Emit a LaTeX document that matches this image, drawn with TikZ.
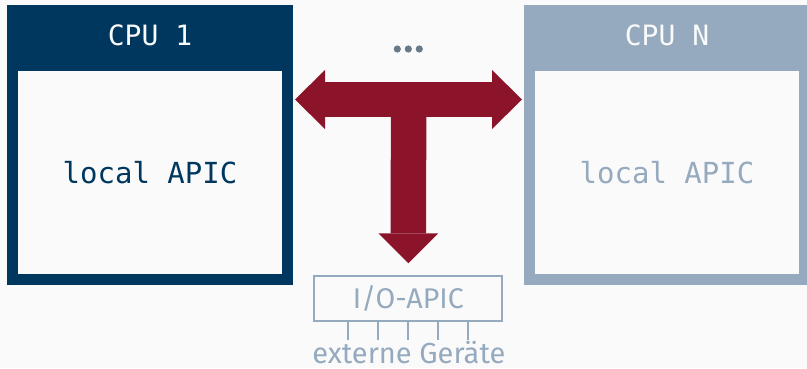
\documentclass[tikz,border=0pt]{standalone}
\usepackage{fontspec}
\setmainfont{Fira Sans}
\setmonofont{DejaVu Sans Mono}
\usepackage{tikz}
\usetikzlibrary{positioning}
\usetikzlibrary{arrows.meta}
\usetikzlibrary{calc}

\definecolor{cpudark}{HTML}{00375F}
\definecolor{cpulight}{HTML}{95AABF}
\definecolor{busred}{HTML}{8C142A}
\definecolor{dotgray}{HTML}{687A87}
\definecolor{paper}{HTML}{FAFAFA}

\begin{document}
\begin{tikzpicture}[x=1pt, y=-1pt]
            \tikzstyle{cpu_node}=[rectangle, minimum width=286pt, minimum height=280pt, inner sep=0pt, outer sep=0pt];
            \tikzstyle{apic_node}=[rectangle, fill=paper, minimum width=264pt, minimum height=203pt, inner sep=0pt, outer sep=0pt, font=\ttfamily\fontsize{29}{32}\selectfont];
            \tikzstyle{cpu_title}=[anchor=base, text=paper, font=\ttfamily\fontsize{28}{32}\selectfont];
            \tikzstyle{bus}=[busred, line width=35.5pt, {Triangle[length=30pt, width=59pt, line width=0pt]}-{Triangle[length=30pt, width=59pt, line width=0pt]}];

            % background
            \fill[paper] (0,0) rectangle (807,368);
            \useasboundingbox (0,0) rectangle (807,368);

            % CPU 1
            \node(cpu1) [cpu_node, fill=cpudark] at (150,145) {};
            \node(cpu1_title) [cpu_title] at (150,45) {CPU 1};
            \node(apic1) [apic_node, text=cpudark] at (150,172.5) {local APIC};

            % CPU N
            \node(cpun) [cpu_node, fill=cpulight] at (667,145) {};
            \node(cpun_title) [cpu_title] at (667,45) {CPU N};
            \node(apicn) [apic_node, text=cpulight] at (667,172.5) {local APIC};

            % dots between the CPUs
            \foreach \dx in {-11,0,11}
                \fill[dotgray] (408.3+\dx,49) circle (3.6pt);

            % I/O-APIC
            \node(ioapic) [rectangle, draw=cpulight, line width=2pt, text=cpulight, minimum width=188pt, minimum height=45.3pt, inner sep=0pt, font=\fontsize{28.5}{30}\selectfont] at (408.3,298.65) {I/O-APIC};
            \foreach \dx in {-60,-30,0,30,60}
                \draw[cpulight, line width=2pt] ($(ioapic.south)+(\dx,0)$) -- ++(0,17.7);
            \node(devices) [anchor=base, text=cpulight, text depth=0pt, font=\fontsize{29}{30}\selectfont] at (408.8,363) {externe Geräte};

            % bus
            \coordinate(bus_c) at (408.6,99.5);
            \draw[bus, shorten <=2pt, shorten >=2pt] (bus_c -| cpu1.east) -- (bus_c -| cpun.west);
            \draw[busred, line width=35.5pt, -{Triangle[length=30pt, width=60pt, line width=0pt]}, shorten >=11.7pt] (bus_c) -- (ioapic.north);
        \end{tikzpicture}
\end{document}
